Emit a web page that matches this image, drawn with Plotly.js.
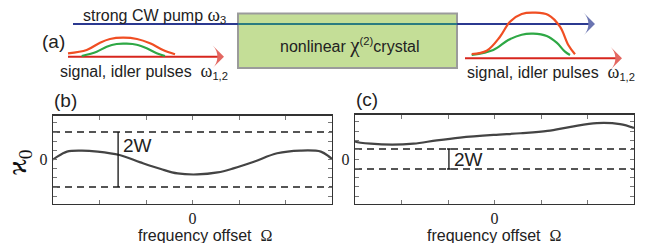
<!DOCTYPE html>
<html><head><meta charset="utf-8">
<script src="https://cdn.plot.ly/plotly-3.0.1.min.js"></script>
<style>body{margin:0;padding:0;background:#fff}#plot{width:652px;height:243px}</style>
</head><body><div id="plot"></div>
<script>
// ---- panel (b) data ----
const bX = [-1.5,-1.47,-1.35,-1.19,-1.02,-0.785,-0.56,-0.34,-0.16,0.05,0.27,0.44,0.66,0.91,1.16,1.38,1.47,1.5];
const bY = [0.0,0.2,0.86,0.97,0.86,0.49,-0.31,-1.04,-1.52,-1.63,-1.41,-0.97,-0.24,0.68,0.97,0.86,0.3,0.05];
const bW = 3.0;           // half-width of band (b)
// ---- panel (c) data ----
const cX = [-1.5,-1.49,-1.33,-1.10,-0.87,-0.62,-0.37,-0.01,0.28,0.57,0.82,1.10,1.35,1.5];
const cY = [1.95,1.87,1.65,1.54,1.65,2.01,2.31,2.6,2.78,3.03,3.47,3.88,3.77,3.35];
const cW = 1.08;          // half-width of band (c)
const xMinor = [-1,-0.5,0.5,1];
const yMinor = [-4,-3,-2,-1,1,2,3,4];
const labelTick = [0];
const labelText = ['0'];
// ---- panel (a) schematic data (diagram units = px) ----
const redInX  = [68,86.7,100,110,123,137,150,163,175];
const redInY  = [53.3,50,42.7,39,37.7,39,43.3,50,54.3];
const grnInX  = [81.7,96.7,106.7,116.7,126.7,136.7,146.7,156.7,165];
const grnInY  = [56,51.7,46.7,44,43.7,44.7,48.3,53.3,56];
const redOutX = [471.7,486.7,500,510,521.7,535,548.3,560,568.3,575];
const redOutY = [54,50.7,36.7,21.7,14,12.7,15,26.7,45,54.3];
const grnOutX = [471.7,493.3,508.3,521.7,533.3,546.7,556.7,565,570];
const grnOutY = [55,50,40,34.7,33.7,36,42.7,51.7,55];

const dark = '#444';
const sans = 'Liberation Sans, Arial, sans-serif';
const serif = 'Liberation Serif, Times New Roman, serif';
const blue = '#2b3990', red = '#d7261e';

function arrowLine(x, y, color){
  return {x:x, y:y, xaxis:'x3', yaxis:'y3', mode:'lines+markers',
    line:{color:color,width:2},
    marker:{symbol:['circle','arrow-wide'], size:[0,16], angleref:'previous', color:color,
            line:{width:0}}};
}

const traces = [
  {x:bX, y:bY, xaxis:'x', yaxis:'y', mode:'lines', line:{color:dark,width:2.2,shape:'spline'}},
  {x:[-1.5,1.5], y:[bW,bW], xaxis:'x', yaxis:'y', mode:'lines', line:{color:'#555',width:2,dash:'7px,5px'}},
  {x:[-1.5,1.5], y:[-bW,-bW], xaxis:'x', yaxis:'y', mode:'lines', line:{color:'#555',width:2,dash:'7px,5px'}},
  {x:cX, y:cY, xaxis:'x2', yaxis:'y2', mode:'lines', line:{color:dark,width:2.2,shape:'spline'}},
  {x:[-1.5,1.5], y:[cW,cW], xaxis:'x2', yaxis:'y2', mode:'lines', line:{color:'#555',width:2,dash:'7px,5px'}},
  {x:[-1.5,1.5], y:[-cW,-cW], xaxis:'x2', yaxis:'y2', mode:'lines', line:{color:'#555',width:2,dash:'7px,5px'}},
  // schematic
  {x:[73,238], y:[24,24], xaxis:'x3', yaxis:'y3', mode:'lines', line:{color:blue,width:2}},
  {x:[238,457], y:[24,24], xaxis:'x3', yaxis:'y3', mode:'lines', line:{color:'#2a7b80',width:2}},
  arrowLine([457,595],[24,24],blue),
  arrowLine([68,224],[56.7,56.7],red),
  arrowLine([465,622],[58.3,58.3],red),
  {x:grnInX, y:grnInY, xaxis:'x3', yaxis:'y3', mode:'lines', line:{color:'#2ea845',width:2.2,shape:'spline'}},
  {x:redInX, y:redInY, xaxis:'x3', yaxis:'y3', mode:'lines', line:{color:'#f04e23',width:2.2,shape:'spline'}},
  {x:grnOutX, y:grnOutY, xaxis:'x3', yaxis:'y3', mode:'lines', line:{color:'#2ea845',width:2.2,shape:'spline'}},
  {x:redOutX, y:redOutY, xaxis:'x3', yaxis:'y3', mode:'lines', line:{color:'#f04e23',width:2.2,shape:'spline'}}
];

const axBase = {
  range:[-1.5,1.5], showgrid:false, zeroline:false, showline:true, mirror:'allticks',
  linecolor:'#333', linewidth:1.2, ticks:'inside', ticklen:4, tickcolor:'#777', tickwidth:1,
  tickmode:'array', tickvals:labelTick, ticktext:labelText,
  minor:{tickmode:'array', tickvals:xMinor, ticks:'inside', ticklen:4, tickcolor:'#777', tickwidth:1, showgrid:false},
  tickfont:{family:serif,size:16,color:'#222'}, ticklabelstandoff:0, fixedrange:true
};
const ayBase = {
  range:[-4.8,4.8], showgrid:false, zeroline:false, showline:true, mirror:'allticks',
  linecolor:'#333', linewidth:1.2, ticks:'inside', ticklen:4, tickcolor:'#777', tickwidth:1,
  tickmode:'array', tickvals:labelTick, ticktext:labelText,
  minor:{tickmode:'array', tickvals:yMinor, ticks:'inside', ticklen:4, tickcolor:'#777', tickwidth:1, showgrid:false},
  tickfont:{family:serif,size:16,color:'#222'}, ticklabelstandoff:1, fixedrange:true
};

function ann(x,y,text,size,extra){
  return Object.assign({xref:'x3',yref:'y3',x:x,y:y,text:text,showarrow:false,
    font:{family:sans,size:size,color:'#222'},xanchor:'left',yanchor:'middle'}, extra||{});
}
const om = '<span style="font-family:Liberation Serif,serif;font-size:19px">ω</span>';
const omS = '<span style="font-family:Liberation Serif,serif;font-size:18px">ω</span>';

const layout = {
  width:652, height:243, margin:{l:0,r:0,t:0,b:0},
  paper_bgcolor:'#fff', plot_bgcolor:'rgba(0,0,0,0)', showlegend:false,
  xaxis: Object.assign({}, axBase, {domain:[53/652, 332/652], anchor:'y'}),
  yaxis: Object.assign({}, ayBase, {domain:[(243-203.5)/243, (243-115.5)/243], anchor:'x'}),
  xaxis2: Object.assign({}, axBase, {domain:[355/652, 634/652], anchor:'y2'}),
  yaxis2: Object.assign({}, ayBase, {domain:[(243-203.5)/243, (243-114.5)/243], anchor:'x2'}),
  xaxis3: {domain:[0,1], range:[0,652], visible:false, fixedrange:true, anchor:'y3'},
  yaxis3: {domain:[0,1], range:[243,0], visible:false, fixedrange:true, anchor:'x3'},
  shapes: [
    {type:'rect', xref:'x3', yref:'y3', x0:238, x1:457, y0:13.5, y1:68, layer:'below',
      fillcolor:'#c4de97', line:{color:'#9b9b9b',width:2}},
    // 2W bars
    {type:'line', xref:'x', yref:'y', x0:-0.8, x1:-0.8, y0:-bW, y1:bW, line:{color:'#111',width:1.3}},
    {type:'line', xref:'x2', yref:'y2', x0:-0.49, x1:-0.49, y0:-cW, y1:cW, line:{color:'#111',width:1.3}},
    {type:'line', xref:'x2', yref:'y2', x0:-0.51, x1:-0.47, y0:cW, y1:cW, line:{color:'#111',width:1.3}},
    {type:'line', xref:'x2', yref:'y2', x0:-0.51, x1:-0.47, y0:-cW, y1:-cW, line:{color:'#111',width:1.3}}
  ],
  annotations: [
    ann(81,15,'strong CW pump '+om+'<sub>3</sub>',16),
    ann(40,41,'(a)',19),
    ann(58,71,'signal, idler pulses  '+omS+'<sub>1,2</sub>',16),
    ann(465,72,'signal, idler pulses  '+omS+'<sub>1,2</sub>',16),
    ann(350,45,'nonlinear <span style="font-family:Liberation Serif,serif;font-size:21px">χ</span><sup>(2)</sup>crystal',16,{xanchor:'center'}),
    ann(52,100,'(b)',19),
    ann(354,99,'(c)',19),
    ann(121,145,'2W',19),
    ann(452,159,'2W',19),
    ann(205,235,'frequency offset  <span style="font-family:Liberation Serif,serif">Ω</span>',16,{xanchor:'center'}),
    ann(494,235,'frequency offset  <span style="font-family:Liberation Serif,serif">Ω</span>',16,{xanchor:'center'}),
    ann(18,162,'ϰ<sub>0</sub>',28,{xanchor:'center',textangle:-90,font:{family:serif,size:28,color:'#111'}})
  ]
};

Plotly.newPlot('plot', traces, layout, {staticPlot:true, displayModeBar:false});
</script></body></html>
